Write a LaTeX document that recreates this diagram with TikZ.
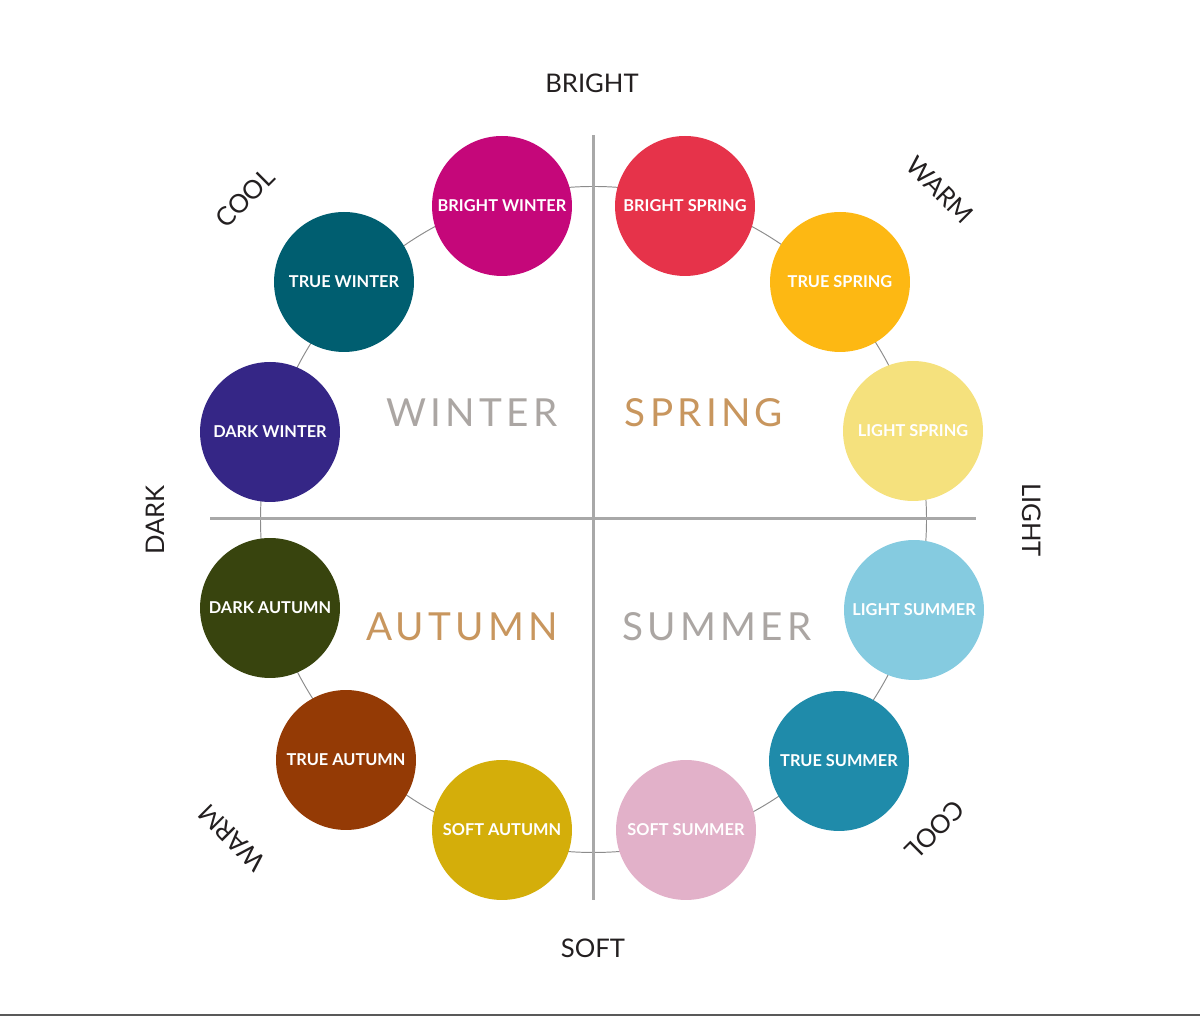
\documentclass[tikz,border=0pt]{standalone}
\usepackage{fontspec}
\setmainfont{Lato}
\usetikzlibrary{backgrounds}
\definecolor{brightwinter}{HTML}{C5077A}
\definecolor{brightspring}{HTML}{E6334A}
\definecolor{truewinter}{HTML}{005E70}
\definecolor{truespring}{HTML}{FDB813}
\definecolor{darkwinter}{HTML}{352686}
\definecolor{lightspring}{HTML}{F5E17D}
\definecolor{darkautumn}{HTML}{38440E}
\definecolor{lightsummer}{HTML}{85CBE0}
\definecolor{trueautumn}{HTML}{943A05}
\definecolor{truesummer}{HTML}{1F8BAA}
\definecolor{softautumn}{HTML}{D4AE0A}
\definecolor{softsummer}{HTML}{E2B1C9}
\definecolor{coolgray}{HTML}{ABA6A3}
\definecolor{warmtan}{HTML}{C8965E}
\definecolor{axisgray}{HTML}{A8A8A8}
\definecolor{ringgray}{HTML}{8C8C8C}
\definecolor{inkgray}{HTML}{231F20}

\begin{document}
\begin{tikzpicture}[x=0.02cm,y=0.02cm,
	season/.style={circle,minimum size=2.8cm,inner sep=0pt,text=white,font=\bfseries\fontsize{9.3}{11}\selectfont},
	axis/.style={line width=1.7pt,draw=axisgray},
	ring/.style={line width=0.55pt,draw=ringgray},
	side/.style={text=inkgray,font=\fontsize{14.6}{17}\selectfont},
	quarter/.style={font=\fontsize{22}{26}\selectfont\addfontfeature{LetterSpace=11}}]
\useasboundingbox (0,0) rectangle (1200,1016);
% the twelve seasons
\node[season,fill=brightwinter](bw) at (502,810){BRIGHT WINTER};
\node[season,fill=brightspring](bs) at (685,810){BRIGHT SPRING};
\node[season,fill=truewinter](tw) at (344,734){TRUE WINTER};
\node[season,fill=truespring](ts) at (840,734){TRUE SPRING};
\node[season,fill=darkwinter](dw) at (270,584){DARK WINTER};
\node[season,fill=lightspring](ls) at (913,585){LIGHT SPRING};
\node[season,fill=darkautumn](da) at (270,408){DARK AUTUMN};
\node[season,fill=lightsummer](lsu) at (914,406){LIGHT SUMMER};
\node[season,fill=trueautumn](ta) at (346,256){TRUE AUTUMN};
\node[season,fill=truesummer](tsu) at (839,255){TRUE SUMMER};
\node[season,fill=softautumn](sa) at (502,186){SOFT AUTUMN};
\node[season,fill=softsummer](ssu) at (686,186){SOFT SUMMER};
% quarters
\node[quarter,text=coolgray](winter) at (472,603){WINTER};
\node[quarter,text=warmtan](spring) at (704,603){SPRING};
\node[quarter,text=warmtan](autumn) at (462,389){AUTUMN};
\node[quarter,text=coolgray](summer) at (717,389){SUMMER};
% directions
\node[side](bright) at (592,933){BRIGHT};
\node[side](soft) at (593,68){SOFT};
\node[side,rotate=90](dark) at (155,496){DARK};
\node[side,rotate=-90](light) at (1032,496){LIGHT};
\node[side,rotate=45](cooltl) at (245,818){COOL};
\node[side,rotate=-45](warmtr) at (940,826){WARM};
\node[side,rotate=135](warmbl) at (232,178){WARM};
\node[side,rotate=225](coolbr) at (935,186){COOL};
% ring and axes
\coordinate (c) at (593.5,496.5);
\coordinate (top) at (593,881);
\coordinate (bot) at (593,116);
\coordinate (left) at (210,497);
\coordinate (right) at (976,497);
\begin{scope}[on background layer]
\draw[ring](c)circle[radius=333];
\draw[axis](top)--(bot) (left)--(right);
\end{scope}
\draw[line width=1.1pt,draw=black!65](0,1)--(1200,1);
\end{tikzpicture}
\end{document}
